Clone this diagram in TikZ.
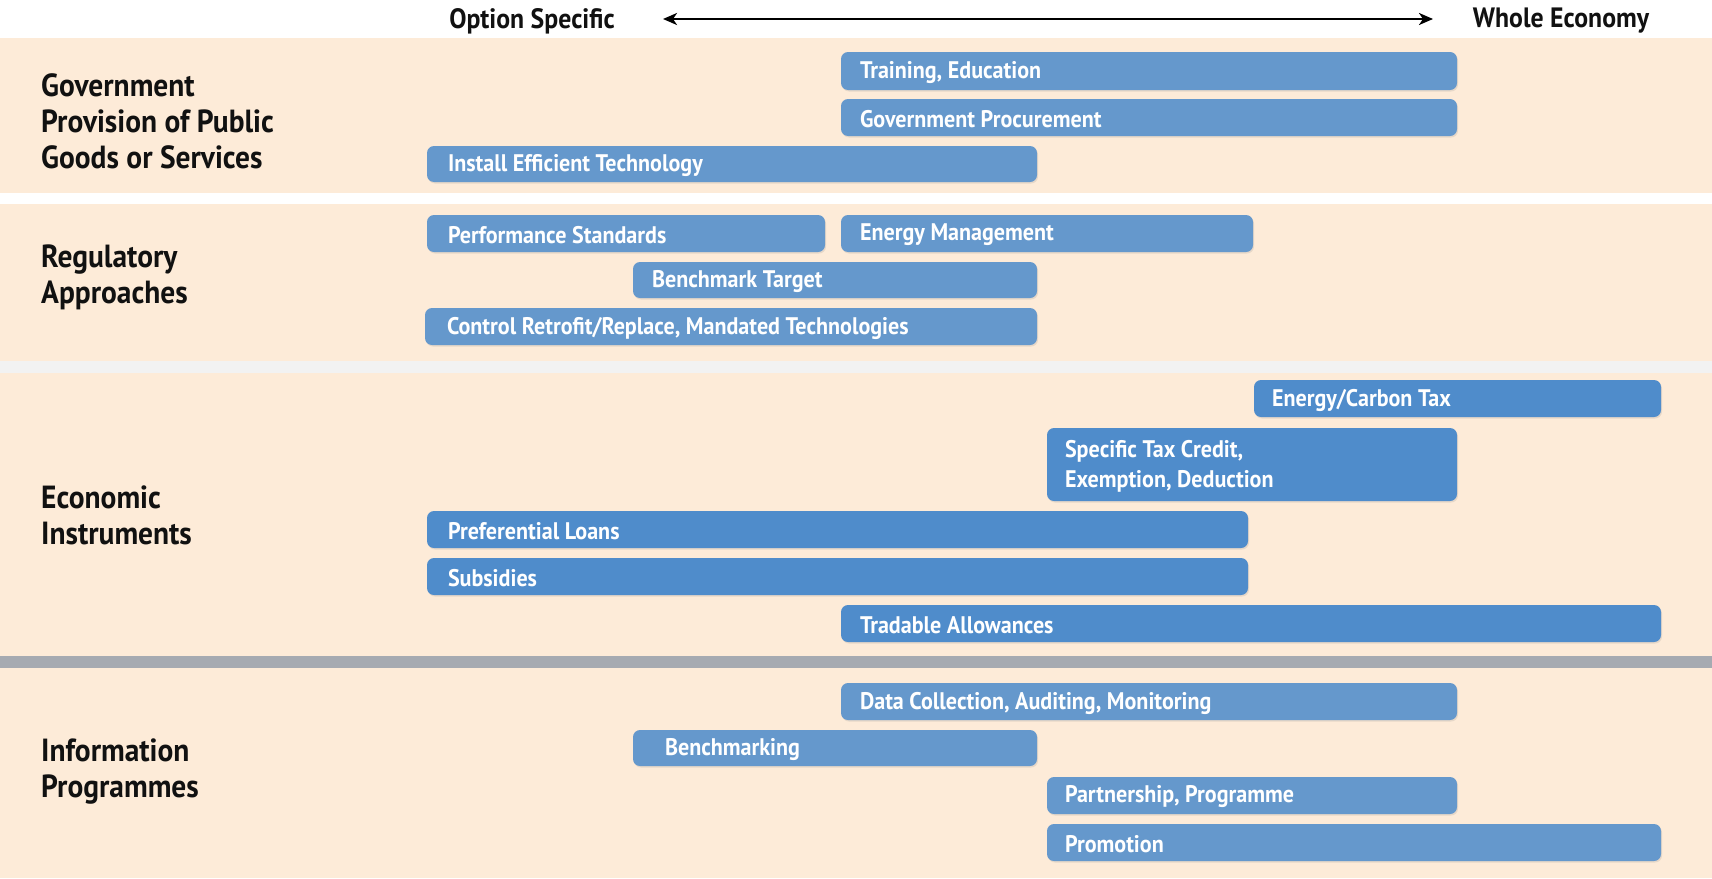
\documentclass[tikz,border=0pt]{standalone}
\usepackage{fontspec}
\setmainfont{PT Sans}[FakeStretch=0.92]
\usetikzlibrary{arrows.meta,fit,shadows}
\definecolor{peach}{HTML}{FDEBD8}
\definecolor{barA}{HTML}{6598CC}
\definecolor{barB}{HTML}{4F8CCB}
\definecolor{sepgray}{HTML}{A6AAB1}
\definecolor{seplight}{HTML}{F2F2F2}
\definecolor{labelc}{HTML}{111111}
\begin{document}
\begin{tikzpicture}[x=1pt,y=-1pt,
  band/.style={fill=peach, draw=none},
  pbar/.style={fill=barA, draw=none, rounded corners=7pt, inner sep=0pt,
    drop shadow={opacity=0.18, shadow xshift=1pt, shadow yshift=-1.5pt}},
  pbarB/.style={pbar, fill=barB},
  bartext/.style={anchor=west, yshift=-1.5pt, text=white, font=\fontsize{24}{30}\selectfont\bfseries, inner sep=0pt, align=left},
  bandlabel/.style={anchor=west, text=labelc, font=\fontsize{32}{36}\selectfont\bfseries, inner sep=0pt, align=left},
  headtext/.style={text=labelc, yshift=-2pt, font=\fontsize{28}{30}\selectfont\bfseries, inner sep=0pt},
  tip/.style={Stealth[length=14pt,width=12pt,inset=4pt]}]
\useasboundingbox (0,0) rectangle (1712,878);
\fill[white] (0,0) rectangle (1712,878);
% bands
\fill[band] (0,38) rectangle (1712,193);
\fill[band] (0,204) rectangle (1712,361);
\fill[seplight] (0,361) rectangle (1712,373);
\fill[band] (0,373) rectangle (1712,656);
\fill[sepgray] (0,656) rectangle (1712,668);
\fill[band] (0,668) rectangle (1712,878);
% header
\node[headtext] (optspec) at (532,19) {Option Specific};
\node[headtext] (whole) at (1561,19) {Whole Economy};
\coordinate (al) at (663,19);
\coordinate (ar) at (1433,19);
\draw[line width=2.4pt, {Stealth[length=14pt,width=12pt,inset=4pt]}-{Stealth[length=14pt,width=12pt,inset=4pt]}] (al) -- (ar);
% band labels
\node[bandlabel] (lab1) at (41,121) {Government\\Provision of Public\\Goods or Services};
\node[bandlabel] (lab2) at (41,277) {Regulatory\\Approaches};
\node[bandlabel] (lab3) at (41,515) {Economic\\Instruments};
\node[bandlabel] (lab4) at (41,772) {Information\\Programmes};
% band 1
\node[pbar, fit={(841,52) (1457,90)}] (b1) {};
\node[bartext] (t1) at ([xshift=19pt]b1.west) {Training, Education};
\node[pbar, fit={(841,99) (1457,136)}] (b2) {};
\node[bartext] (t2) at ([xshift=19pt]b2.west) {Government Procurement};
\node[pbar, fit={(427,146) (1037,182)}] (b3) {};
\node[bartext] (t3) at ([xshift=21pt]b3.west) {Install Efficient Technology};
% band 2
\node[pbar, fit={(427,215) (825,252)}] (b4) {};
\node[bartext] (t4) at ([xshift=21pt]b4.west) {Performance Standards};
\node[pbar, fit={(841,215) (1253,252)}] (b5) {};
\node[bartext] (t5) at ([xshift=19pt]b5.west) {Energy Management};
\node[pbar, fit={(633,262) (1037,298)}] (b6) {};
\node[bartext] (t6) at ([xshift=19pt]b6.west) {Benchmark Target};
\node[pbar, fit={(425,308) (1037,345)}] (b7) {};
\node[bartext] (t7) at ([xshift=22pt]b7.west) {Control Retrofit/Replace, Mandated Technologies};
% band 3
\node[pbarB, fit={(1254,380) (1661,417)}] (b8) {};
\node[bartext] (t8) at ([xshift=18pt]b8.west) {Energy/Carbon Tax};
\node[pbarB, fit={(1047,428) (1457,501)}] (b9) {};
\node[bartext] (t9) at ([xshift=18pt]b9.west) {Specific Tax Credit,\\Exemption, Deduction};
\node[pbarB, fit={(427,511) (1248,548)}] (b10) {};
\node[bartext] (t10) at ([xshift=21pt]b10.west) {Preferential Loans};
\node[pbarB, fit={(427,558) (1248,595)}] (b11) {};
\node[bartext] (t11) at ([xshift=21pt]b11.west) {Subsidies};
\node[pbarB, fit={(841,605) (1661,642)}] (b12) {};
\node[bartext] (t12) at ([xshift=19pt]b12.west) {Tradable Allowances};
% band 4
\node[pbar, fit={(841,683) (1457,720)}] (b13) {};
\node[bartext] (t13) at ([xshift=19pt]b13.west) {Data Collection, Auditing, Monitoring};
\node[pbar, fit={(633,730) (1037,766)}] (b14) {};
\node[bartext] (t14) at ([xshift=32pt]b14.west) {Benchmarking};
\node[pbar, fit={(1047,777) (1457,814)}] (b15) {};
\node[bartext] (t15) at ([xshift=18pt]b15.west) {Partnership, Programme};
\node[pbar, fit={(1047,824) (1661,861)}] (b16) {};
\node[bartext] (t16) at ([xshift=18pt]b16.west) {Promotion};
\end{tikzpicture}
\end{document}
